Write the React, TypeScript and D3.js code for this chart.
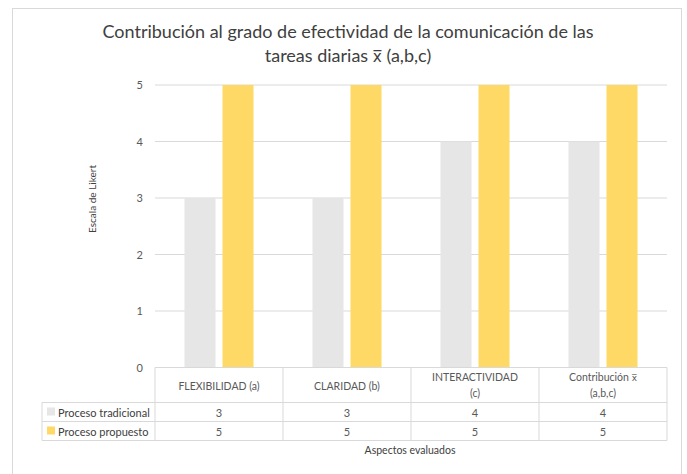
import * as d3 from 'd3';

const categories = ['FLEXIBILIDAD (a)', 'CLARIDAD (b)', 'INTERACTIVIDAD\n(c)', 'Contribución x̅\n(a,b,c)'];
const seriesNames = ['Proceso tradicional', 'Proceso propuesto'];
const tradicional = [3, 3, 4, 4];
const propuesto = [5, 5, 5, 5];
const yTicks = [0, 1, 2, 3, 4, 5];

const colors = ['#e7e6e6', '#ffd966'];
const font = 'Lato, "Open Sans", sans-serif';
const xbarFont = '"DejaVu Sans", sans-serif';

// splits "x̅" out so it can use a font that places the overline well
function withXbar(s: string) {
  const parts = s.split('x̅');
  if (parts.length === 1) return s;
  return (
    <>
      {parts[0]}
      <tspan fontFamily={xbarFont} fontSize='0.85em'>x̅</tspan>
      {parts[1]}
    </>
  );
}

export default function App() {
  const width = 687;
  const height = 474;
  const plot = { left: 155, right: 667, top: 85, bottom: 367.5 };
  const rowH = [35, 19, 19];
  const legendLeft = 42;

  const series = [tradicional, propuesto];

  const x = d3.scaleBand<string>().domain(categories).range([plot.left, plot.right]);
  const inner = d3
    .scaleBand<number>()
    .domain([0, 1])
    .range([0, x.bandwidth()])
    .paddingInner(0.184)
    .paddingOuter(0.776);
  const y = d3.scaleLinear().domain([0, 5]).range([plot.bottom, plot.top]);

  const gridColor = '#d9d9d9';
  const textColor = '#595959';
  const t0 = plot.bottom;
  const t1 = t0 + rowH[0];
  const t2 = t1 + rowH[1];
  const t3 = t2 + rowH[2];

  return (
    <svg width={width} height={height} style={{ position: 'absolute', left: 0, top: 0 }}>
      <rect x={0} y={0} width={width} height={height} fill='#fff' />
      <rect x={12.5} y={8.5} width={669} height={480} fill='#fff' stroke={gridColor} />

      <text x={348} y={38} textAnchor='middle' fontFamily={font} fontSize={18} fill='#404040'>
        Contribución al grado de efectividad de la comunicación de las
      </text>
      <text x={348} y={62} textAnchor='middle' fontFamily={font} fontSize={18} fill='#404040'>
        {withXbar('tareas diarias x̅ (a,b,c)')}
      </text>

      {yTicks.map((t) => (
        <g key={t}>
          {t > 0 && (
            <line x1={plot.left} x2={plot.right} y1={y(t)} y2={y(t)} stroke={gridColor} strokeWidth={1} />
          )}
          <text x={143} y={y(t) + 4} textAnchor='end' fontFamily={font} fontSize={11} fill={textColor}>
            {t}
          </text>
        </g>
      ))}

      <text
        transform='translate(92,199) rotate(-90)'
        dy='0.35em'
        textAnchor='middle'
        fontFamily={font}
        fontSize={10}
        fill='#404040'
      >
        Escala de Likert
      </text>

      {categories.map((c, i) => (
        <g key={c} transform={`translate(${x(c)},0)`}>
          {series.map((s, j) => (
            <rect
              key={j}
              x={inner(j)}
              y={y(s[i])}
              width={inner.bandwidth()}
              height={y(0) - y(s[i])}
              fill={colors[j]}
            />
          ))}
        </g>
      ))}

      {/* data table */}
      <g fill='none' stroke={gridColor} strokeWidth={1}>
        <line x1={plot.left} x2={plot.right} y1={t0} y2={t0} />
        <line x1={legendLeft} x2={plot.right} y1={t1} y2={t1} />
        <line x1={legendLeft} x2={plot.right} y1={t2} y2={t2} />
        <line x1={legendLeft} x2={plot.right} y1={t3} y2={t3} />
        <line x1={legendLeft} x2={legendLeft} y1={t1} y2={t3} />
        {categories.map((c) => (
          <line key={c} x1={x(c)} x2={x(c)} y1={t0} y2={t3} />
        ))}
        <line x1={plot.right} x2={plot.right} y1={t0} y2={t3} />
      </g>

      {categories.map((c, i) => {
        const lines = c.split('\n');
        const cx = (x(c) as number) + x.bandwidth() / 2;
        return (
          <g key={c}>
            {lines.map((l, k) => (
              <text
                key={k}
                x={cx}
                y={lines.length === 1 ? t0 + 22 : t0 + 13 + k * 16}
                textAnchor='middle'
                fontFamily={font}
                fontSize={10.5}
                fill={textColor}
              >
                {withXbar(l)}
              </text>
            ))}
            {series.map((s, j) => (
              <text
                key={j}
                x={cx}
                y={(j === 0 ? t1 : t2) + 14}
                textAnchor='middle'
                fontFamily={font}
                fontSize={11}
                fill={textColor}
              >
                {s[i]}
              </text>
            ))}
          </g>
        );
      })}

      {seriesNames.map((n, j) => {
        const top = j === 0 ? t1 : t2;
        return (
          <g key={n}>
            <rect x={47} y={top + 5} width={8} height={8} fill={colors[j]} />
            <text x={58} y={top + 14} fontFamily={font} fontSize={11} fill='#404040'>
              {n}
            </text>
          </g>
        );
      })}

      <text x={410} y={454} textAnchor='middle' fontFamily={font} fontSize={10.5} fill='#404040'>
        Aspectos evaluados
      </text>
    </svg>
  );
}
